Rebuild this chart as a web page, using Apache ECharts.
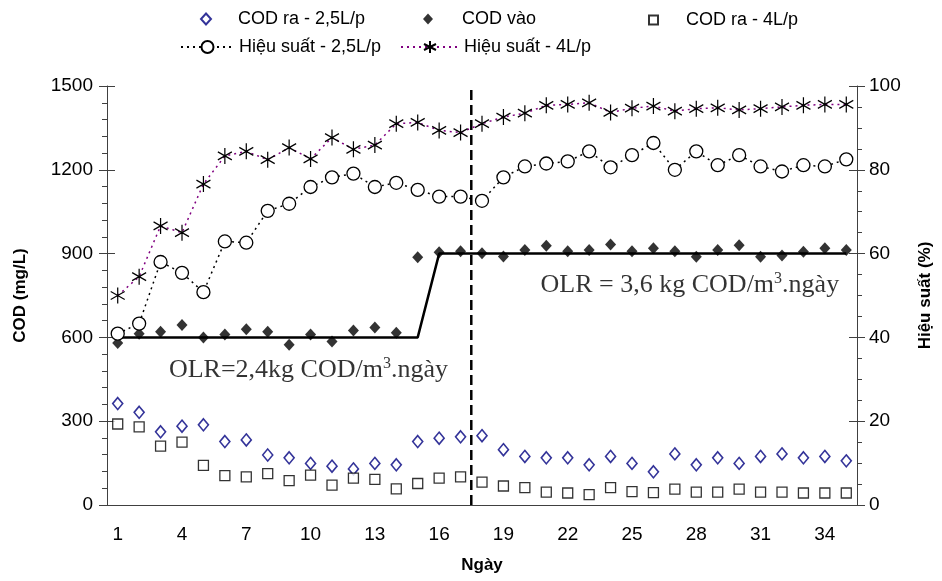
<!DOCTYPE html>
<html>
  <head>
    <meta charset="utf-8">
    <title>COD - Hiệu suất</title>
    <script type="text/javascript" src="https://cdn.jsdelivr.net/npm/echarts@6/dist/echarts.min.js"></script>
    <style>
      html, body { margin: 0; padding: 0; background: #fff; }
      #chart { width: 942px; height: 581px; }
    </style>
  </head>
  <body>
    <div id="chart"></div>
    <script type="text/javascript">

      // day numbers on the x axis
      var days = [];
      for (var d = 1; d <= 35; d++) days.push(String(d));

      // COD (mg/L), left axis
      var codRa25 = [363, 332, 262, 282, 287, 227, 233, 179, 169, 149, 139, 129, 149, 144,
                     227, 239, 244, 248, 198, 174, 169, 169, 144, 174, 149, 119, 183,
                     144, 169, 149, 174, 183, 169, 174, 158];
      var codVao  = [580, 613, 620, 644, 600, 610, 629, 620, 574, 610, 585, 625, 635, 617,
                     887, 905, 908, 901, 890, 913, 928, 908, 913, 933, 908, 919, 908,
                     889, 913, 930, 889, 893, 907, 919, 913];
      var codRa4  = [290, 280, 211, 225, 142, 105, 101, 112, 87, 107, 71, 96, 92, 58,
                     77, 96, 101, 82, 68, 62, 46, 43, 37, 62, 48, 44, 57,
                     46, 46, 57, 46, 46, 43, 43, 43];
      // OLR step line (COD level)
      var olrLevel = [600, 600, 600, 600, 600, 600, 600, 600, 600, 600, 600, 600, 600, 600, 600,
                      900, 900, 900, 900, 900, 900, 900, 900, 900, 900, 900, 900, 900, 900, 900,
                      900, 900, 900, 900, 900];

      // Hiệu suất (%), right axis
      var hs25 = [40.9, 43.3, 58, 55.4, 50.8, 62.9, 62.6, 70.2, 71.9, 75.9, 78.2, 79.1, 75.9, 76.9,
                  75.2, 73.6, 73.6, 72.6, 78.2, 80.8, 81.5, 82, 84.4, 80.6, 83.5, 86.4, 80,
                  84.4, 81.1, 83.5, 80.8, 79.6, 81.1, 80.8, 82.5];
      var hs4  = [50, 54.5, 66.6, 65, 76.6, 83.3, 84.4, 82.4, 85.3, 82.6, 87.7, 84.9, 85.9, 91,
                  91.3, 89.4, 88.9, 91, 92.6, 93.5, 95.4, 95.6, 96, 93.7, 94.7, 95.2, 94,
                  94.6, 94.8, 94.3, 94.6, 95, 95.4, 95.6, 95.6];

      // vertical dashed divider between day 17 and 18
      var divider = [[17.5, 0], [17.5, 1500]];
      // annotation anchors (day, COD)
      var olrNote1 = [[9.9, 482]];
      var olrNote2 = [[27.7, 786]];

      var sans = 'Liberation Sans, Arial, sans-serif';
      var serif = 'Liberation Serif, Times New Roman, serif';
      var axisCol = '#404040';
      var star = 'path://M10,0L10,20M1.34,5L18.66,15M1.34,15L18.66,5';

      var myChart = echarts.init(document.getElementById('chart'));

      var noteRich = {
        a: { fontFamily: serif, fontSize: 26, color: '#000', textBorderWidth: 0 },
        s: { fontFamily: serif, fontSize: 16, color: '#000', textBorderWidth: 0, padding: [0, 0, 14, 0] }
      };

      function legendAt(name, left, top, width, height, pad) {
        return {
          data: [name], left: left, top: top, padding: 0,
          itemWidth: width, itemHeight: height, selectedMode: false,
          textStyle: { fontFamily: sans, fontSize: 18, color: '#000', padding: [0, 0, 0, pad] }
        };
      }

      function plain(v) { return String(v); }

      var option = {
        animation: false,
        backgroundColor: '#fff',
        grid: { left: 107, right: 82, top: 86, bottom: 76 },
        legend: [
          legendAt('COD ra - 2,5L/p', 200, 10, 10, 11, 22),
          legendAt('COD vào', 423, 10, 10, 11, 24),
          legendAt('COD ra - 4L/p', 648, 11, 9, 9, 23),
          legendAt('Hiệu suất - 2,5L/p', 180, 38, 53, 15, 0),
          legendAt('Hiệu suất - 4L/p', 400, 38, 58, 15, 0)
        ],
        xAxis: [
          {
            type: 'category', data: days, boundaryGap: true,
            name: 'Ngày', nameLocation: 'middle', nameGap: 52,
            nameTextStyle: { fontFamily: sans, fontSize: 17, fontWeight: 'bold', color: '#000' },
            axisLine: { lineStyle: { color: axisCol, width: 1 } },
            axisTick: { interval: 0, length: 7, lineStyle: { color: axisCol } },
            axisLabel: { interval: 2, margin: 20, fontFamily: sans, fontSize: 19, color: '#000' },
            splitLine: { show: false }
          },
          {
            type: 'category', data: days, boundaryGap: true,
            axisLine: { show: false },
            axisTick: { interval: 0, inside: true, length: 7, lineStyle: { color: axisCol } },
            axisLabel: { show: false },
            splitLine: { show: false }
          },
          { type: 'value', min: 0.5, max: 35.5, show: false }
        ],
        yAxis: [
          {
            type: 'value', min: 0, max: 1500, interval: 300,
            name: 'COD (mg/L)', nameLocation: 'middle', nameGap: 78, nameRotate: 90,
            nameTextStyle: { fontFamily: sans, fontSize: 17, fontWeight: 'bold', color: '#000' },
            axisLine: { show: true, lineStyle: { color: axisCol } },
            axisTick: { show: true, length: 8, lineStyle: { color: axisCol } },
            minorTick: { show: true, splitNumber: 5, length: 5, lineStyle: { color: axisCol } },
            axisLabel: { margin: 14, fontFamily: sans, fontSize: 19, color: '#000', formatter: plain },
            splitLine: { show: false }
          },
          {
            type: 'value', min: 0, max: 1500, interval: 300, position: 'left',
            axisLine: { show: false },
            axisTick: { show: true, inside: true, length: 8, lineStyle: { color: axisCol } },
            axisLabel: { show: false },
            splitLine: { show: false }
          },
          {
            type: 'value', min: 0, max: 100, interval: 20, position: 'right',
            name: 'Hiệu suất (%)', nameLocation: 'middle', nameGap: 60, nameRotate: 90,
            nameTextStyle: { fontFamily: sans, fontSize: 17, fontWeight: 'bold', color: '#000' },
            axisLine: { show: true, lineStyle: { color: axisCol } },
            axisTick: { show: true, length: 8, lineStyle: { color: axisCol } },
            minorTick: { show: true, splitNumber: 4, length: 5, lineStyle: { color: axisCol } },
            axisLabel: { margin: 12, fontFamily: sans, fontSize: 19, color: '#000', formatter: plain },
            splitLine: { show: false }
          },
          {
            type: 'value', min: 0, max: 100, interval: 20, position: 'right',
            axisLine: { show: false },
            axisTick: { show: true, inside: true, length: 8, lineStyle: { color: axisCol } },
            axisLabel: { show: false },
            splitLine: { show: false }
          }
        ],
        series: [
          {
            name: 'OLR', type: 'line', data: olrLevel, yAxisIndex: 0,
            symbol: 'none', lineStyle: { color: '#000', width: 2.5 }, z: 1
          },
          {
            name: 'divider', type: 'line', data: divider, xAxisIndex: 2, yAxisIndex: 0,
            symbol: 'none', lineStyle: { color: '#000', width: 2.5, type: [10, 5] }, z: 1
          },
          {
            name: 'COD ra - 2,5L/p', type: 'scatter', data: codRa25, yAxisIndex: 0,
            symbol: 'diamond', symbolSize: [10, 12],
            itemStyle: { color: '#fff', borderColor: '#000080', borderWidth: 1.6 }, z: 3
          },
          {
            name: 'COD vào', type: 'scatter', data: codVao, yAxisIndex: 0,
            symbol: 'diamond', symbolSize: [11, 12],
            itemStyle: { color: '#000' }, z: 3
          },
          {
            name: 'COD ra - 4L/p', type: 'scatter', data: codRa4, yAxisIndex: 0,
            symbol: 'rect', symbolSize: 10,
            itemStyle: { color: '#fff', borderColor: '#000', borderWidth: 1.3 }, z: 3
          },
          {
            name: 'Hiệu suất - 2,5L/p', type: 'line', data: hs25, yAxisIndex: 2,
            symbol: 'circle', symbolSize: 13, showAllSymbol: true,
            lineStyle: { color: '#000', width: 1.5, type: [2, 4] },
            itemStyle: { color: '#fff', borderColor: '#000', borderWidth: 1.3 }, z: 4
          },
          {
            name: 'Hiệu suất - 4L/p', type: 'line', data: hs4, yAxisIndex: 2,
            symbol: star, symbolSize: [14, 16], showAllSymbol: true,
            lineStyle: { color: '#800080', width: 1.5, type: [2, 4] },
            itemStyle: { color: '#000', borderColor: '#000', borderWidth: 1.3 }, z: 4
          },
          {
            name: 'note1', type: 'scatter', data: olrNote1, xAxisIndex: 2, yAxisIndex: 0,
            symbol: 'circle', symbolSize: 0, silent: true, z: 5,
            label: { show: true, position: 'inside', color: '#000', textBorderWidth: 0,
                     formatter: '{a|OLR=2,4kg COD/m}{s|3}{a|.ngày}', rich: noteRich }
          },
          {
            name: 'note2', type: 'scatter', data: olrNote2, xAxisIndex: 2, yAxisIndex: 0,
            symbol: 'circle', symbolSize: 0, silent: true, z: 5,
            label: { show: true, position: 'inside', color: '#000', textBorderWidth: 0,
                     formatter: '{a|OLR = 3,6 kg COD/m}{s|3}{a|.ngày}', rich: noteRich }
          }
        ]
      };

      myChart.setOption(option);

    </script>
  </body>
</html>
